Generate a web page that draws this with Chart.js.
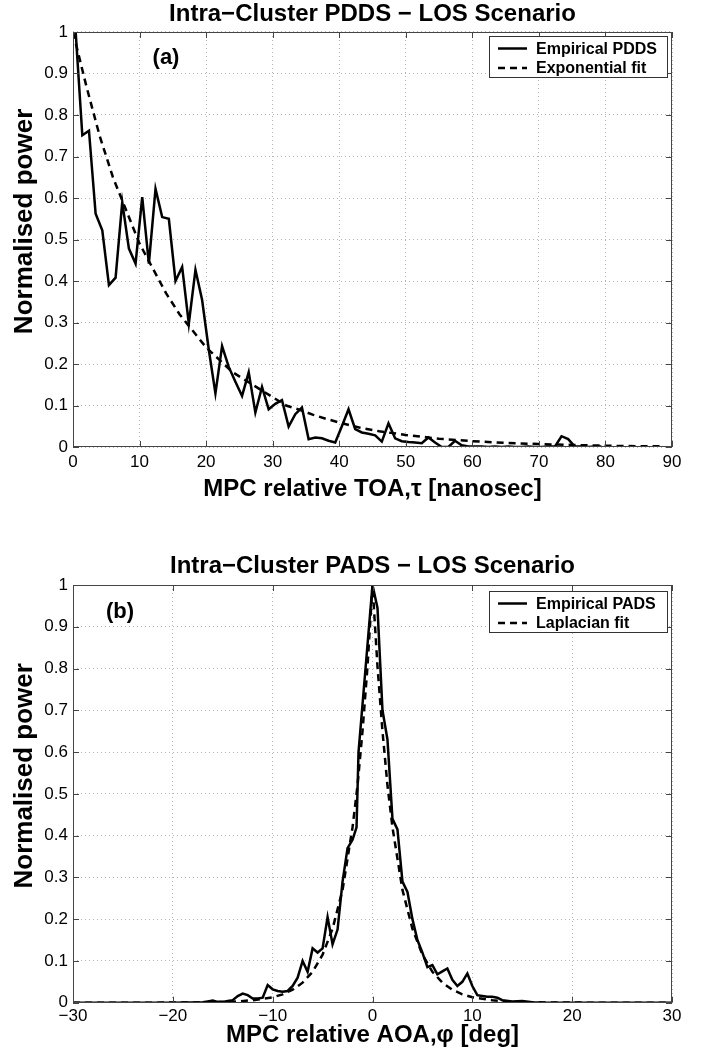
<!DOCTYPE html>
<html>
<head>
<meta charset="utf-8">
<script src="https://cdn.jsdelivr.net/npm/chart.js@4.4.1/dist/chart.umd.min.js"></script>
<style>
  body { margin: 0; background: #fff; width: 705px; height: 1055px; overflow: hidden; }
  canvas { position: absolute; left: 0; }
  #chartA { top: 0; }
  #chartB { top: 510px; }
</style>
</head>
<body>
<canvas id="chartA" width="705" height="510"></canvas>
<canvas id="chartB" width="705" height="545"></canvas>
<script>
// ---- panel (a): power delay spectrum ----
const toaEmp = [0.4, 1.4, 2.4, 3.4, 4.4, 5.4, 6.4, 7.4, 8.4, 9.4, 10.4, 11.4, 12.4, 13.4, 14.4, 15.4, 16.4, 17.4, 18.4, 19.4,
  20.4, 21.4, 22.4, 23.4, 24.4, 25.4, 26.4, 27.4, 28.4, 29.4, 30.4, 31.4, 32.4, 33.4, 34.4, 35.4, 36.4, 37.4, 38.4, 39.4,
  40.4, 41.4, 42.4, 43.4, 44.4, 45.4, 46.4, 47.4, 48.4, 49.4, 50.4, 51.4, 52.4, 53.4, 54.4, 55.4, 56.4, 57.4, 58.4, 59.4,
  60.4, 61.4, 62.4, 63.4, 64.4, 65.4, 66.4, 67.4, 68.4, 69.4, 70.4, 71.4, 72.4, 73.4, 74.4, 75.4, 76.4, 77.4, 78.4, 79.4];
const pddsEmp = [1.0, 0.751, 0.762, 0.562, 0.522, 0.39, 0.408, 0.59, 0.478, 0.442, 0.602, 0.442, 0.622, 0.554, 0.55, 0.40, 0.434, 0.297, 0.427, 0.354,
  0.235, 0.129, 0.243, 0.193, 0.157, 0.123, 0.18, 0.083, 0.145, 0.091, 0.104, 0.113, 0.049, 0.079, 0.095, 0.019, 0.023, 0.021, 0.015, 0.011,
  0.05, 0.091, 0.043, 0.035, 0.032, 0.028, 0.013, 0.057, 0.021, 0.014, 0.012, 0.011, 0.009, 0.023, 0.011, 0.0, 0.0, 0.015, 0.004, 0.001,
  0.001, 0.001, 0.0, 0.001, 0.0, 0.001, 0.0, 0.0, 0.001, 0.0, 0.0, 0.001, 0.001, 0.026, 0.019, 0.001, 0.001, 0.0, 0.001, 0.001];
const toaFit = [0, 2, 4, 6, 8, 10, 12, 14, 16, 18, 20, 22, 24, 26, 28, 30, 32, 34, 36, 38, 40, 43, 46, 50, 55, 60, 65, 70, 75, 80, 85, 88.5];
const pddsFit = [1.0, 0.87, 0.75, 0.65, 0.57, 0.49, 0.43, 0.37, 0.32, 0.28, 0.24, 0.21, 0.18, 0.16, 0.14, 0.12, 0.10, 0.09, 0.078, 0.068,
  0.059, 0.047, 0.038, 0.029, 0.02, 0.014, 0.01, 0.007, 0.005, 0.003, 0.002, 0.002];
const toaTicks = [0, 10, 20, 30, 40, 50, 60, 70, 80, 90];

// ---- panel (b): power azimuth spectrum ----
const aoaEmp = [-30, -20, -17, -16.5, -16, -15.5, -15, -14.5, -14, -13.5, -13, -12.5, -12, -11.5, -11, -10.5, -10, -9.5, -9, -8.5,
  -8, -7.5, -7, -6.5, -6, -5.5, -5, -4.5, -4, -3.5, -3, -2.5, -2, -1.6, -1.4, -0.7, 0, 0.5, 1, 1.5,
  2, 2.5, 3, 3.5, 4, 4.5, 5, 5.5, 6, 6.5, 7, 7.5, 8, 8.5, 9, 9.5, 10, 10.5, 11, 11.5,
  12, 12.5, 13, 14, 15, 16, 17, 20, 30];
const padsEmp = [0, 0, 0.001, 0.003, 0.005, 0.002, 0.002, 0.004, 0.006, 0.016, 0.022, 0.018, 0.01, 0.01, 0.012, 0.042, 0.032, 0.028, 0.026, 0.028,
  0.04, 0.06, 0.1, 0.074, 0.13, 0.12, 0.13, 0.205, 0.14, 0.175, 0.29, 0.37, 0.39, 0.42, 0.6, 0.8, 1.0, 0.945, 0.70, 0.63,
  0.44, 0.415, 0.29, 0.265, 0.2, 0.15, 0.12, 0.085, 0.09, 0.068, 0.075, 0.082, 0.055, 0.04, 0.05, 0.07, 0.04, 0.018, 0.016, 0.014,
  0.014, 0.012, 0.006, 0.003, 0.004, 0.001, 0, 0, 0];
const aoaFit = [-30, -20, -16, -14, -12, -10, -9, -8, -7, -6, -5, -4, -3, -2, -1.5, -1, -0.5, 0,
  0.5, 1, 1.5, 2, 3, 4, 5, 6, 7, 8, 9, 10, 12, 14, 16, 20, 30];
const padsFit = [0, 0.0002, 0.001, 0.002, 0.006, 0.013, 0.02, 0.031, 0.048, 0.074, 0.115, 0.177, 0.27, 0.42, 0.52, 0.65, 0.805, 1.0,
  0.805, 0.65, 0.52, 0.42, 0.27, 0.177, 0.115, 0.074, 0.048, 0.031, 0.02, 0.013, 0.006, 0.002, 0.001, 0.0002, 0];
const aoaTicks = [-30, -20, -10, 0, 10, 20, 30];

const powerTicks = [0, 0.1, 0.2, 0.3, 0.4, 0.5, 0.6, 0.7, 0.8, 0.9, 1];

Chart.defaults.font.family = '"Liberation Sans", Arial, Helvetica, sans-serif';
Chart.defaults.color = '#000';

function pts(xs, ys) {
  return xs.map((x, i) => ({ x: x, y: ys[i] }));
}

// axes box, inward ticks, panel tag and boxed legend (matlab look)
const frame = {
  id: 'frame',
  afterDatasetsDraw(chart, args, opts) {
    const ctx = chart.ctx;
    const a = chart.chartArea;
    const sx = chart.scales.x, sy = chart.scales.y;
    ctx.save();
    ctx.strokeStyle = '#444';
    ctx.lineWidth = 1;
    ctx.setLineDash([]);
    ctx.strokeRect(Math.round(a.left) + 0.5, Math.round(a.top) + 0.5, Math.round(a.width) - 1, Math.round(a.height) - 1);
    ctx.beginPath();
    sx.ticks.forEach(t => {
      const p = Math.round(sx.getPixelForValue(t.value)) + 0.5;
      ctx.moveTo(p, a.bottom); ctx.lineTo(p, a.bottom - 6);
      ctx.moveTo(p, a.top); ctx.lineTo(p, a.top + 6);
    });
    sy.ticks.forEach(t => {
      const p = Math.round(sy.getPixelForValue(t.value)) + 0.5;
      ctx.moveTo(a.left, p); ctx.lineTo(a.left + 6, p);
      ctx.moveTo(a.right, p); ctx.lineTo(a.right - 6, p);
    });
    ctx.stroke();

    // panel tag
    ctx.fillStyle = '#000';
    ctx.font = 'bold 22px "Liberation Sans", Arial, sans-serif';
    ctx.textAlign = 'center';
    ctx.textBaseline = 'middle';
    ctx.fillText(opts.tag, a.left + opts.tagX, a.top + opts.tagY);

    // legend
    const w = 178, h = 41;
    const lx = a.right - 5 - w, ly = a.top + opts.legendTop;
    ctx.fillStyle = '#fff';
    ctx.fillRect(lx, ly, w, h);
    ctx.strokeStyle = '#333';
    ctx.strokeRect(lx + 0.5, ly + 0.5, w, h);
    ctx.font = 'bold 16px "Liberation Sans", Arial, sans-serif';
    ctx.textAlign = 'left';
    chart.data.datasets.forEach((ds, i) => {
      const y = ly + 12.5 + i * 19.5;
      ctx.strokeStyle = '#000';
      ctx.lineWidth = 2.5;
      ctx.setLineDash(ds.borderDash || []);
      ctx.beginPath();
      ctx.moveTo(lx + 9, y); ctx.lineTo(lx + 38, y);
      ctx.stroke();
      ctx.fillStyle = '#000';
      ctx.fillText(ds.label, lx + 47, y + 1);
    });
    ctx.restore();
  }
};

function makeChart(id, o) {
  return new Chart(document.getElementById(id), {
    type: 'line',
    data: {
      datasets: [{
        label: o.empLabel,
        data: pts(o.xEmp, o.yEmp),
        borderColor: '#000',
        borderWidth: 2.5,
        pointRadius: 0,
        tension: 0
      }, {
        label: o.fitLabel,
        data: pts(o.xFit, o.yFit),
        borderColor: '#000',
        borderWidth: 2.5,
        borderDash: [7, 5],
        pointRadius: 0,
        tension: 0
      }]
    },
    plugins: [frame],
    options: {
      responsive: false,
      animation: false,
      devicePixelRatio: 1,
      layout: { padding: { left: 0, right: 33, top: o.padTop, bottom: 0 } },
      plugins: {
        legend: { display: false },
        tooltip: { enabled: false },
        title: {
          display: true,
          fullSize: false,
          text: o.title,
          color: '#000',
          font: { size: 24, weight: 'bold' },
          padding: { top: 0, bottom: o.titleGap }
        },
        frame: { tag: o.tag, tagX: o.tagX, tagY: o.tagY, legendTop: o.legendTop }
      },
      scales: {
        x: {
          type: 'linear',
          min: o.xTicks[0],
          max: o.xTicks[o.xTicks.length - 1],
          afterBuildTicks: s => { s.ticks = o.xTicks.map(v => ({ value: v })); },
          afterFit: s => { s.height = o.xHeight; },
          grid: { color: '#b4b4b4', lineWidth: 1, drawTicks: false, tickLength: 0 },
          border: { display: false, dash: [1, 3] },
          ticks: {
            padding: o.xTickPad,
            maxRotation: 0,
            autoSkip: false,
            font: { size: 17 },
            callback: v => String(v).replace('-', '\u2212')
          },
          title: {
            display: true,
            text: o.xTitle,
            font: { size: 24, weight: 'bold' },
            padding: { top: 0, bottom: o.xTitlePad }
          }
        },
        y: {
          min: 0,
          max: 1,
          afterBuildTicks: s => { s.ticks = powerTicks.map(v => ({ value: v })); },
          afterFit: s => { s.width = 73; },
          grid: { color: '#b4b4b4', lineWidth: 1, drawTicks: false, tickLength: 0 },
          border: { display: false, dash: [1, 3] },
          ticks: {
            padding: 5,
            font: { size: 17 },
            callback: v => String(+v.toFixed(1))
          },
          title: {
            display: true,
            text: '     Normalised power',
            font: { size: 26, weight: 'bold' },
            padding: { top: 9.4, bottom: 0 }
          }
        }
      }
    }
  });
}

makeChart('chartA', {
  title: 'Intra\u2212Cluster PDDS \u2212 LOS Scenario',
  empLabel: 'Empirical PDDS', fitLabel: 'Exponential fit',
  xEmp: toaEmp, yEmp: pddsEmp, xFit: toaFit, yFit: pddsFit,
  xTicks: toaTicks,
  xTitle: 'MPC relative TOA,\u03c4 [nanosec]',
  padTop: 0, titleGap: 3.2,
  xHeight: 63, xTickPad: 5, xTitlePad: 6.6,
  tag: '(a)', tagX: 93, tagY: 26, legendTop: 4
});

makeChart('chartB', {
  title: 'Intra\u2212Cluster PADS \u2212 LOS Scenario',
  empLabel: 'Empirical PADS', fitLabel: 'Laplacian fit',
  xEmp: aoaEmp, yEmp: padsEmp, xFit: aoaFit, yFit: padsFit,
  xTicks: aoaTicks,
  xTitle: 'MPC relative AOA,\u03c6 [deg]',
  padTop: 41.6, titleGap: 4.6,
  xHeight: 52.3, xTickPad: 3, xTitlePad: 5.6,
  tag: '(b)', tagX: 47, tagY: 27, legendTop: 6
});
</script>
</body>
</html>
